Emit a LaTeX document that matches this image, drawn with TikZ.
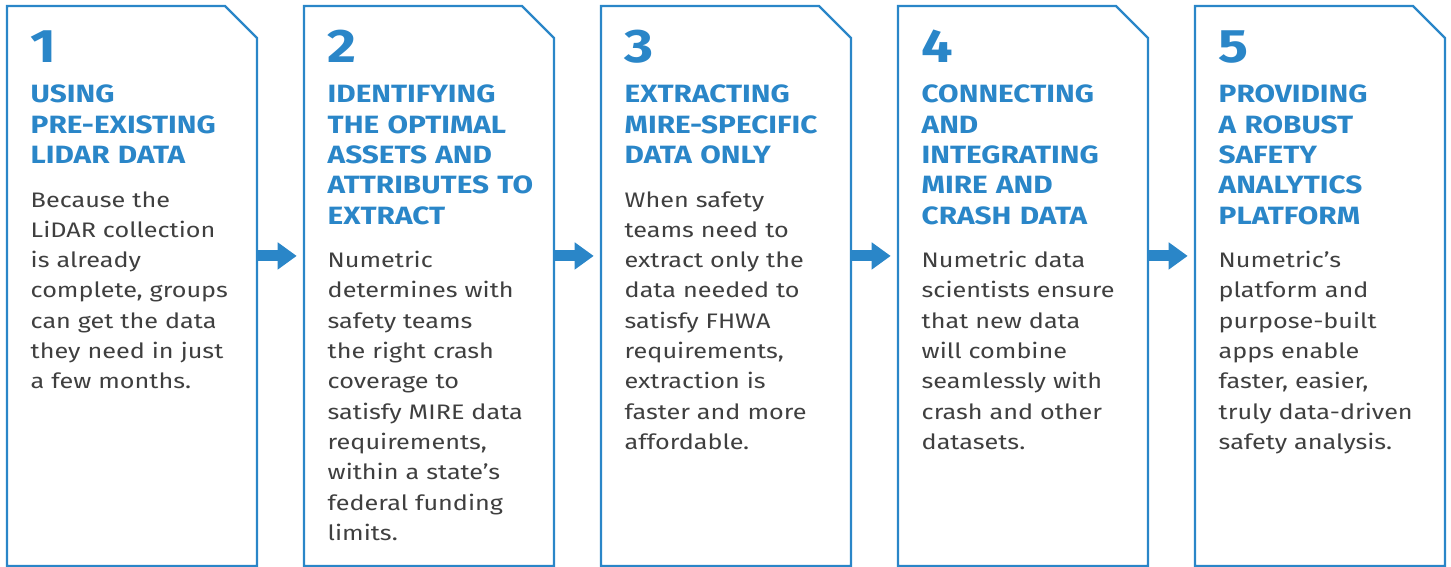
\documentclass[tikz,border=0pt]{standalone}
\usepackage{fontspec}
\setmainfont{Fira Sans}[FakeStretch=1.2]
\newfontfamily\headfont{Fira Sans}[FakeStretch=1.19]
\usetikzlibrary{arrows.meta}
\definecolor{stepblue}{HTML}{2A86C8}
\definecolor{textgray}{HTML}{3F3F3F}
\newcommand{\g}{297}

\begin{document}
\begin{tikzpicture}[x=1pt, y=-1pt,
    box/.style={rectangle, anchor=north west, minimum width=249.5pt, minimum height=559.5pt, inner sep=0pt},
    frame/.style={draw=stepblue, line width=2.3pt},
    num/.style={anchor=base west, inner sep=0pt, text=stepblue, font=\headfont\bfseries\fontsize{47}{47}\selectfont},
    head/.style={anchor=base west, inner sep=0pt, text=stepblue, align=left, text width=245pt, font=\headfont\bfseries\fontsize{25}{30.3}\selectfont},
    body/.style={anchor=base west, inner sep=0pt, text=textgray, align=left, text width=245pt, font=\fontsize{21}{30.3}\selectfont},
    flow/.style={draw=stepblue, line width=11pt, -{Triangle[length=19pt, width=26pt]}, shorten >=7.3pt}]

    \useasboundingbox (0,0) rectangle (1451,567);

    % First box
    \node[box] (box-1) at (0*\g+7,6) {};
    \draw[frame] (box-1.south west) |- ([xshift=-32pt]box-1.north east) -- ([yshift=-32pt]box-1.north east) |- (box-1.south west) -- cycle;
    \node[num] (num-1) at (0*\g+30.5,63) {1};
    \node[head] (head-1) at (0*\g+30.5,103) {USING\\PRE-EXISTING\\LIDAR DATA};
    \node[body] (body-1) at (0*\g+30.5,207) {Because the\\LiDAR collection\\is already\\complete, groups\\can get the data\\they need in just\\a few months.};

    % Second box
    \node[box] (box-2) at (1*\g+7,6) {};
    \draw[frame] (box-2.south west) |- ([xshift=-32pt]box-2.north east) -- ([yshift=-32pt]box-2.north east) |- (box-2.south west) -- cycle;
    \node[num] (num-2) at (1*\g+30.5,63) {2};
    \node[head] (head-2) at (1*\g+30.5,103) {IDENTIFYING\\THE OPTIMAL\\ASSETS AND\\ATTRIBUTES TO\\EXTRACT};
    \node[body] (body-2) at (1*\g+30.5,267.6) {Numetric\\determines with\\safety teams\\the right crash\\coverage to\\satisfy MIRE data\\requirements,\\within a state’s\\federal funding\\limits.};

    % Third box
    \node[box] (box-3) at (2*\g+7,6) {};
    \draw[frame] (box-3.south west) |- ([xshift=-32pt]box-3.north east) -- ([yshift=-32pt]box-3.north east) |- (box-3.south west) -- cycle;
    \node[num] (num-3) at (2*\g+30.5,63) {3};
    \node[head] (head-3) at (2*\g+30.5,103) {EXTRACTING\\MIRE-SPECIFIC\\DATA ONLY};
    \node[body] (body-3) at (2*\g+30.5,207) {When safety\\teams need to\\extract only the\\data needed to\\satisfy FHWA\\requirements,\\extraction is\\faster and more\\affordable.};

    % Fourth box
    \node[box] (box-4) at (3*\g+7,6) {};
    \draw[frame] (box-4.south west) |- ([xshift=-32pt]box-4.north east) -- ([yshift=-32pt]box-4.north east) |- (box-4.south west) -- cycle;
    \node[num] (num-4) at (3*\g+30.5,63) {4};
    \node[head] (head-4) at (3*\g+30.5,103) {CONNECTING\\AND\\INTEGRATING\\MIRE AND\\CRASH DATA};
    \node[body] (body-4) at (3*\g+30.5,267.6) {Numetric data\\scientists ensure\\that new data\\will combine\\seamlessly with\\crash and other\\datasets.};

    % Fifth box
    \node[box] (box-5) at (4*\g+7,6) {};
    \draw[frame] (box-5.south west) |- ([xshift=-32pt]box-5.north east) -- ([yshift=-32pt]box-5.north east) |- (box-5.south west) -- cycle;
    \node[num] (num-5) at (4*\g+30.5,63) {5};
    \node[head] (head-5) at (4*\g+30.5,103) {PROVIDING\\A ROBUST\\SAFETY\\ANALYTICS\\PLATFORM};
    \node[body] (body-5) at (4*\g+30.5,267.6) {Numetric’s\\platform and\\purpose-built\\apps enable\\faster, easier,\\truly data-driven\\safety analysis.};

    % Arrows
    \draw[flow] ([yshift=30pt]box-1.east) -- ([yshift=30pt]box-2.west);
    \draw[flow] ([yshift=30pt]box-2.east) -- ([yshift=30pt]box-3.west);
    \draw[flow] ([yshift=30pt]box-3.east) -- ([yshift=30pt]box-4.west);
    \draw[flow] ([yshift=30pt]box-4.east) -- ([yshift=30pt]box-5.west);

\end{tikzpicture}
\end{document}
